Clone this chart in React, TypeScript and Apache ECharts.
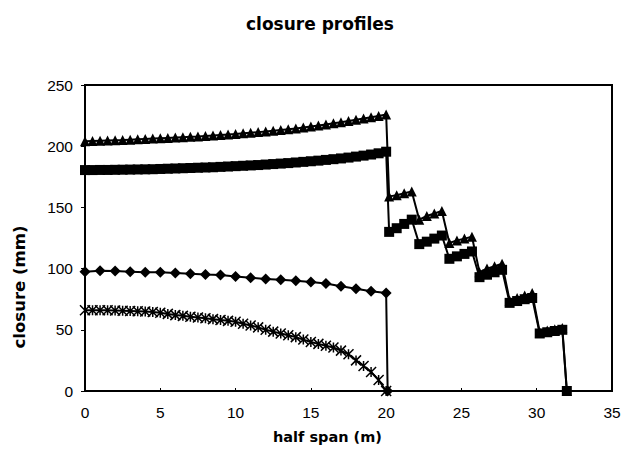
import React, { useEffect, useRef } from "react";
import * as echarts from "echarts";

// ---- data ----
const xHalf: number[] = [0, 0.5, 1, 1.5, 2, 2.5, 3, 3.5, 4, 4.5, 5, 5.5, 6, 6.5, 7, 7.5, 8, 8.5, 9, 9.5, 10, 10.5, 11, 11.5, 12, 12.5, 13, 13.5, 14, 14.5, 15, 15.5, 16, 16.5, 17, 17.5, 18, 18.5, 19, 19.5, 20];
const xSteps: number[] = [20.2, 20.7, 21.2, 21.7, 22.2, 22.7, 23.2, 23.7, 24.2, 24.7, 25.2, 25.7, 26.2, 26.7, 27.2, 27.7, 28.2, 28.7, 29.2, 29.7, 30.2, 30.7, 31.2, 31.7, 32];

const triHalf: number[] = [204, 204.2, 204.4, 204.6, 204.8, 205, 205.3, 205.6, 205.9, 206.2, 206.5, 206.8, 207.1, 207.4, 207.7, 208, 208.4, 208.8, 209.2, 209.6, 210, 210.5, 211, 211.5, 212, 212.6, 213.2, 213.8, 214.5, 215.3, 216.1, 216.9, 217.8, 218.7, 219.6, 220.6, 221.6, 222.6, 223.6, 224.7, 226];
const triSteps: number[] = [159, 160, 161.5, 163, 140, 143, 145, 147, 121, 123, 124.5, 126, 97, 100, 102, 104, 74, 76, 78, 80, 48, 49.5, 50.5, 51.5, 0];

const sqHalf: number[] = [180.5, 180.5, 180.6, 180.6, 180.7, 180.8, 180.9, 181, 181.1, 181.2, 181.4, 181.6, 181.8, 182, 182.2, 182.4, 182.6, 182.8, 183.1, 183.4, 183.7, 184, 184.3, 184.6, 185, 185.4, 185.8, 186.2, 186.7, 187.2, 187.7, 188.2, 188.8, 189.4, 190, 190.7, 191.5, 192.3, 193.2, 194.2, 195.5];
const sqSteps: number[] = [130, 133, 136.5, 140, 120, 122, 124.5, 127, 108, 110, 112, 114, 93, 95, 97, 99, 72, 73.5, 75, 76, 47, 48, 49, 50, 0];

const diaX: number[] = [0, 1, 2, 3, 4, 5, 6, 7, 8, 9, 10, 11, 12, 13, 14, 15, 16, 17, 18, 19, 20, 20.1];
const diaY: number[] = [97.5, 98.3, 98, 97.5, 97, 97, 96.5, 95.8, 95.2, 94.8, 93.5, 92.5, 91.6, 90.8, 90, 89, 87.8, 85.5, 83.5, 81.5, 80, 0];

const crossY: number[] = [66, 66, 66, 66, 65.8, 65.6, 65.4, 65.2, 65, 64.5, 64, 63, 62, 61.4, 60.7, 60, 59.4, 58.7, 58, 57.3, 56.5, 55, 53.5, 52, 50, 48.5, 47, 45.5, 44, 42, 40, 38.5, 37, 35.5, 33, 30, 25, 20.5, 15.5, 9, 0];

const xTicks = { min: 0, max: 35, interval: 5 };
const yTicks = { min: 0, max: 250, interval: 50 };

const zip = (xs: number[], ys: number[]) => xs.map((x, i) => [x, ys[i]]);

const STAR = "path://M0,0L10,10M10,0L0,10M5,0L5,10";

export default function App() {
  const ref = useRef<HTMLDivElement>(null);
  useEffect(() => {
    if (!ref.current) return;
    const chart = echarts.init(ref.current, null, { renderer: "svg" });
    const font = "'Liberation Sans', Arial, sans-serif";
    const wide = "'DejaVu Sans', sans-serif";
    const baseLine = { color: "#000", width: 2 };
    chart.setOption({
      animation: false,
      backgroundColor: "#fff",
      textStyle: { fontFamily: font },
      title: {
        text: "closure profiles",
        left: 315,
        top: 10,
        textAlign: "center",
        textStyle: { fontFamily: wide, fontSize: 17, fontWeight: "bold", color: "#000" },
      },
      graphic: [
        {
          type: "text",
          x: 19,
          y: 287,
          rotation: Math.PI / 2,
          style: {
            text: "closure (mm)",
            fontFamily: wide,
            fontSize: 16.5,
            fontWeight: "bold",
            fill: "#000",
            textAlign: "center",
            textVerticalAlign: "middle",
          },
        },
        {
          type: "rect",
          shape: { x: 85, y: 85, width: 527, height: 306 },
          style: { fill: "none", stroke: "#000", lineWidth: 2 },
          z: 10,
        },
      ],
      grid: { left: 85, right: 12, top: 85, bottom: 67 },
      xAxis: {
        type: "value",
        min: xTicks.min,
        max: xTicks.max,
        interval: xTicks.interval,
        name: "half span (m)",
        nameLocation: "middle",
        nameGap: 38,
        nameTextStyle: { fontFamily: wide, fontSize: 14.5, fontWeight: "bold", color: "#000", padding: [0, 42, 0, 0] },
        axisLine: { show: true, lineStyle: { color: "#000", width: 2 } },
        axisTick: { show: true, inside: true, length: 3, lineStyle: { color: "#000" } },
        axisLabel: { color: "#000", fontSize: 15.5, margin: 13, fontFamily: font },
        splitLine: { show: false },
      },
      yAxis: {
        type: "value",
        min: yTicks.min,
        max: yTicks.max,
        interval: yTicks.interval,
        axisLine: { show: true, lineStyle: { color: "#000", width: 2 } },
        axisTick: { show: true, length: 4, lineStyle: { color: "#000" } },
        axisLabel: { color: "#000", fontSize: 15.5, margin: 12, fontFamily: font },
        splitLine: { show: false },
      },
      series: [
        {
          type: "line",
          data: zip(xHalf.concat(xSteps), triHalf.concat(triSteps)),
          symbol: "triangle",
          symbolSize: 10,
          itemStyle: { color: "#000" },
          lineStyle: baseLine,
        },
        {
          type: "line",
          data: zip(xHalf.concat(xSteps), sqHalf.concat(sqSteps)),
          symbol: "rect",
          symbolSize: 10,
          itemStyle: { color: "#000" },
          lineStyle: baseLine,
        },
        {
          type: "line",
          data: zip(diaX, diaY),
          symbol: "diamond",
          symbolSize: 11,
          itemStyle: { color: "#000" },
          lineStyle: baseLine,
        },
        {
          type: "line",
          data: zip(xHalf, crossY),
          symbol: STAR,
          symbolSize: 10,
          itemStyle: { color: "rgba(0,0,0,0)", borderColor: "#000", borderWidth: 1.5 },
          lineStyle: baseLine,
        },
      ],
    });
    return () => chart.dispose();
  }, []);
  return (
    <div
      ref={ref}
      style={{ position: "fixed", left: 0, top: 0, width: 624, height: 458, background: "#fff" }}
    />
  );
}
